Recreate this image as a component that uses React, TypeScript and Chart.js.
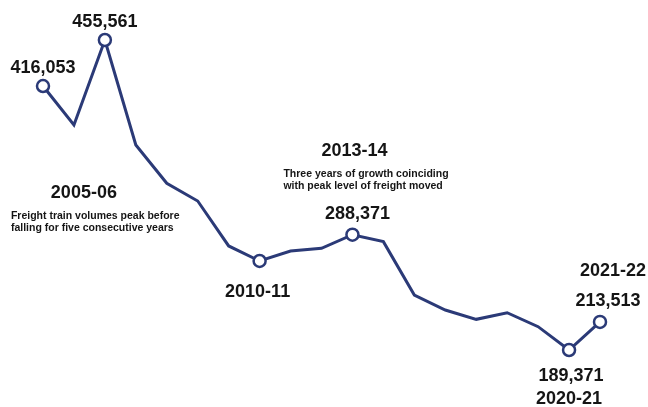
import React, { useEffect, useRef } from "react";
import { Chart, registerables } from "chart.js";

Chart.register(...registerables);

// Financial years covered by the series
const years = [
  "2003-04", "2004-05", "2005-06", "2006-07", "2007-08", "2008-09", "2009-10",
  "2010-11", "2011-12", "2012-13", "2013-14", "2014-15", "2015-16", "2016-17",
  "2017-18", "2018-19", "2019-20", "2020-21", "2021-22",
];

// Freight trains run per year
const freightTrains = [
  416053, 382600, 455561, 365400, 332500, 317300, 278700,
  265800, 274400, 276700, 288371, 282400, 236600, 223700,
  215700, 221400, 209400, 189371, 213513,
];

// Highlighted years (value and year label drawn next to the marker)
const highlightYears = ["2003-04", "2005-06", "2010-11", "2013-14", "2020-21", "2021-22"];

// Commentary attached to two of the highlighted years
const notes: Record<string, string[]> = {
  "2005-06": ["Freight train volumes peak before", "falling for five consecutive years"],
  "2013-14": ["Three years of growth coinciding", "with peak level of freight moved"],
};

const NAVY = "#2b3a77";
const INK = "#151515";
const FONT = '"Liberation Sans", Arial, Helvetica, sans-serif';

type LabelPlacement = {
  value?: [number, number];
  year?: [number, number];
  note?: [number, number];
};

// Offsets (dx, dy of the text baseline) relative to each highlighted point
const placement: Record<string, LabelPlacement> = {
  "2003-04": { value: [0, -13] },
  "2005-06": { value: [0, -13], year: [-21, 158], note: [-94, 179] },
  "2010-11": { year: [-2, 36] },
  "2013-14": { value: [5, -16], year: [2, -79], note: [-69, -58] },
  "2020-21": { value: [2, 31], year: [0, 54] },
  "2021-22": { value: [8, -16], year: [13, -46] },
};

const fmt = (v: number) => v.toLocaleString("en-GB");

const labelPlugin = {
  id: "freightLabels",
  afterDatasetsDraw(chart: any) {
    const ctx = chart.ctx as CanvasRenderingContext2D;
    const meta = chart.getDatasetMeta(0);
    ctx.save();
    ctx.fillStyle = INK;
    ctx.textBaseline = "alphabetic";
    highlightYears.forEach((yr) => {
      const i = years.indexOf(yr);
      const pt = meta.data[i];
      if (!pt) return;
      const p = placement[yr] || {};
      ctx.font = `bold 18px ${FONT}`;
      ctx.textAlign = "center";
      if (p.value) {
        ctx.fillText(fmt(freightTrains[i]), pt.x + p.value[0], pt.y + p.value[1]);
      }
      if (p.year) {
        ctx.fillText(yr, pt.x + p.year[0], pt.y + p.year[1]);
      }
      const lines = notes[yr];
      if (lines && p.note) {
        ctx.font = `bold 10.5px ${FONT}`;
        ctx.textAlign = "left";
        lines.forEach((ln, k) => {
          ctx.fillText(ln, pt.x + p.note![0], pt.y + p.note![1] + k * 12);
        });
      }
    });
    ctx.restore();
  },
};

export default function App() {
  const canvasRef = useRef<HTMLCanvasElement | null>(null);

  useEffect(() => {
    const canvas = canvasRef.current;
    if (!canvas) return;
    const radii = years.map((y) => (highlightYears.includes(y) ? 6 : 0));
    const chart = new Chart(canvas, {
      type: "line",
      data: {
        labels: years,
        datasets: [
          {
            data: freightTrains,
            borderColor: NAVY,
            borderWidth: 3,
            tension: 0,
            pointRadius: radii,
            pointHoverRadius: radii,
            pointBackgroundColor: "#ffffff",
            pointBorderColor: NAVY,
            pointBorderWidth: 2.5,
            clip: false,
          } as any,
        ],
      },
      options: {
        responsive: false,
        animation: false,
        events: [],
        layout: { padding: { left: 43, right: 48, top: 40, bottom: 57 } },
        plugins: {
          legend: { display: false },
          tooltip: { enabled: false },
          title: { display: false },
        },
        scales: {
          x: { display: false, offset: false },
          y: { display: false, min: 189371, max: 455561 },
        },
      },
      plugins: [labelPlugin],
    });
    return () => chart.destroy();
  }, []);

  return (
    <div
      style={{
        position: "fixed",
        left: 0,
        top: 0,
        width: 648,
        height: 407,
        background: "#ffffff",
      }}
    >
      <canvas ref={canvasRef} width={648} height={407} style={{ width: 648, height: 407, display: "block" }} />
    </div>
  );
}
